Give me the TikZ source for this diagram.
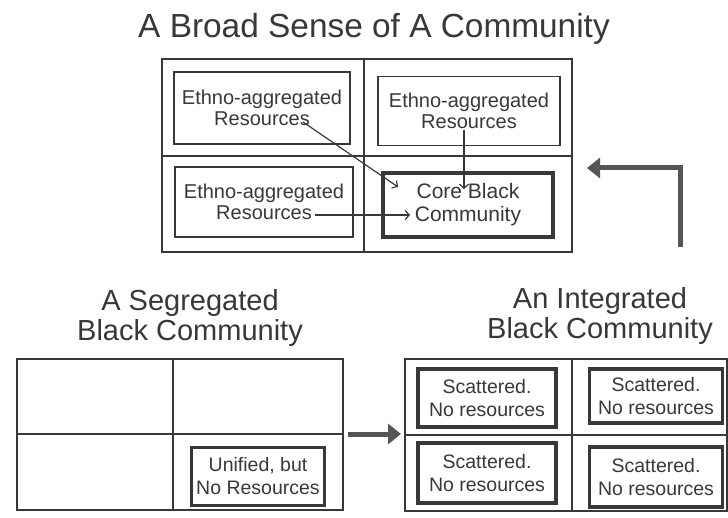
\documentclass[tikz,border=0pt]{standalone}
\usepackage{fontspec}
\setmainfont{Liberation Sans}
\usetikzlibrary{arrows.meta}

\definecolor{ink}{HTML}{383838}
\definecolor{arrowgray}{HTML}{555555}

\tikzset{
	title/.style={align=center, text=ink, font=\fontsize{33.4}{35}\selectfont},
	subtitle/.style={align=center, text=ink, font=\fontsize{29}{30}\selectfont},
	gridline/.style={draw=ink, line width=1.8pt},
	resbox/.style={draw=ink, line width=1.8pt, align=center, text=ink, inner sep=0pt,
		font=\fontsize{20}{21}\selectfont},
	corebox/.style={resbox, line width=3.8pt, font=\fontsize{21}{23}\selectfont},
	poorbox/.style={resbox, line width=3.2pt, font=\fontsize{19.5}{22.5}\selectfont},
	thinarrow/.style={draw=ink, line width=1.2pt, -{Straight Barb[length=4pt,width=9pt]}},
	bigarrow/.style={draw=arrowgray, line width=5pt, -{Triangle[length=13pt,width=20pt]}},
}

\begin{document}
\begin{tikzpicture}[x=1pt, y=-1pt]
	\useasboundingbox[fill=white] (0,0) rectangle (728,518);

	% titles
	\node[title, anchor=base] (broadTitle) at (374,38) {A Broad Sense of A Community};
	\node[subtitle] (segTitle) at (190,318) {A Segregated\\Black Community};
	\node[subtitle] (intTitle) at (600,316) {An Integrated\\Black Community};

	% grids
	\draw[gridline] (162,59) rectangle (572,252);
	\draw[gridline] (364,59) -- (364,252) (162,156) -- (572,156);
	\draw[gridline] (17,359) rectangle (343,510);
	\draw[gridline] (173,359) -- (173,510) (17,434) -- (343,434);
	\draw[gridline] (405,359) rectangle (727,511);
	\draw[gridline] (572,359) -- (572,511) (405,435) -- (727,435);

	% broad community
	\node[resbox, minimum width=176pt, minimum height=72pt] (ethTL) at (262,108) {Ethno-aggregated\\Resources};
	\node[resbox, minimum width=182pt, minimum height=69pt] (ethTR) at (469,111) {Ethno-aggregated\\Resources};
	\node[resbox, minimum width=178pt, minimum height=70pt] (ethBL) at (264,202) {Ethno-aggregated\\Resources};
	\node[corebox, minimum width=170pt, minimum height=64pt] (core) at (468,205) {Core Black\\Community};

	\coordinate (srcA) at (303,122);
	\coordinate (tipA) at (398,187);
	\coordinate (srcB) at (464,130);
	\coordinate (tipB) at (464,189);
	\coordinate (srcC) at (315,215);
	\coordinate (tipC) at (410,215);
	\draw[thinarrow] (srcA) -- (tipA);
	\draw[thinarrow] (srcB) -- (tipB);
	\draw[thinarrow] (srcC) -- (tipC);

	% segregated and integrated
	\node[poorbox, line width=3pt, minimum width=133pt, minimum height=58pt] (unified) at (258,476) {Unified, but\\No Resources};
	\foreach \cx/\cy/\w/\h/\nm in {487/398/138/58/a, 656/396/133/54/b, 487/473/138/60/c, 656/477/133/60/d}
		\node[poorbox, minimum width=\w pt, minimum height=\h pt] (scat\nm) at (\cx,\cy) {Scattered.\\No resources};

	% big arrows
	\coordinate (segRight) at (348,434);
	\coordinate (intLeft) at (401,434);
	\draw[bigarrow] (segRight) -- (intLeft);
	\coordinate (intTop) at (680,247);
	\coordinate (broadRight) at (587,168);
	\draw[bigarrow] (intTop) |- (broadRight);
\end{tikzpicture}
\end{document}
